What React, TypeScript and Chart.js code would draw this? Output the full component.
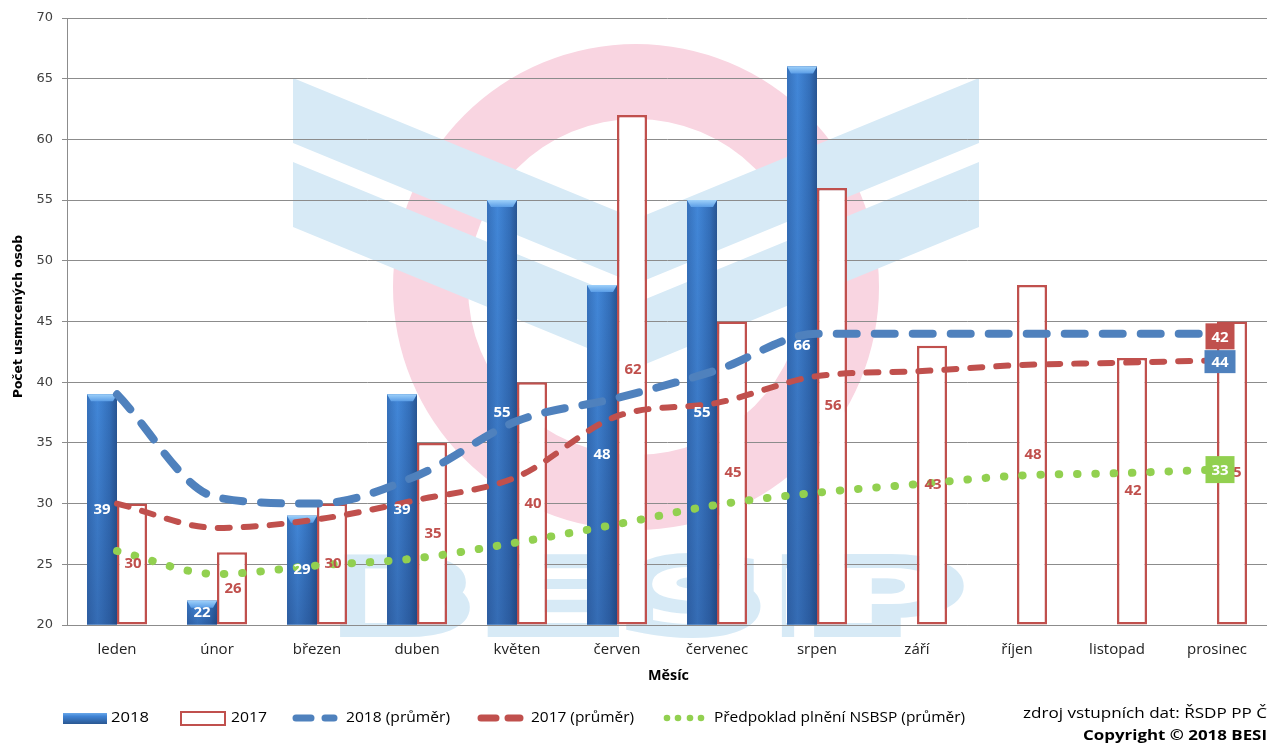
import React, { useEffect, useRef } from 'react';
import { Chart, registerables } from 'chart.js';

Chart.register(...registerables);

// ---- data ----
const months = ['leden', 'únor', 'březen', 'duben', 'květen', 'červen', 'červenec', 'srpen', 'září', 'říjen', 'listopad', 'prosinec'];
const deaths2018: (number | null)[] = [39, 22, 29, 39, 55, 48, 55, 66, null, null, null, null];
const deaths2017 = [30, 26, 30, 35, 40, 62, 45, 56, 43, 48, 42, 45];
const avg2018 = [39, 30.5, 30, 32.3, 36.8, 38.7, 41, 44, 44, 44, 44, 44];
const avg2017 = [30, 28, 28.7, 30.3, 32.2, 37.2, 38.3, 40.5, 40.9, 41.4, 41.6, 41.8];
const nsbspAvg = [26.1, 24.2, 24.9, 25.5, 26.8, 28.3, 29.9, 30.9, 31.6, 32.3, 32.5, 32.8];
const yMin = 20;
const yMax = 70;
const yStep = 5;
const legendLabels = ['2018', '2017', '2018 (průměr)', '2017 (průměr)', 'Předpoklad plnění NSBSP (průměr)'];
const yTitle = 'Počet usmrcených osob';
const xTitle = 'Měsíc';
const sourceText = 'zdroj vstupních dat: ŘSDP PP Č';
const copyrightText = 'Copyright © 2018 BESIP';

const W = 1267;
const H = 744;
const BLUE = '#4f81bd';
const RED = '#c0504d';
const GREEN = '#92d050';
const WM_BLUE = '#d7eaf6';
const WM_PINK = '#f9d5e1';

function fitText(ctx: CanvasRenderingContext2D, text: string, x: number, y: number, width: number, measureText?: string) {
  const m = ctx.measureText(measureText ?? text).width;
  const s = m > 0 ? width / m : 1;
  ctx.save();
  ctx.translate(x, y);
  ctx.scale(s, 1);
  ctx.textAlign = 'left';
  ctx.fillText(text, 0, 0);
  ctx.restore();
}

function drawWatermark(ctx: CanvasRenderingContext2D) {
  ctx.save();
  // pink ring
  ctx.fillStyle = WM_PINK;
  ctx.beginPath();
  ctx.arc(636, 287, 243, 0, Math.PI * 2, false);
  ctx.moveTo(636 + 168, 287);
  ctx.arc(636, 287, 168, 0, Math.PI * 2, true);
  ctx.fill();
  // chevrons
  ctx.fillStyle = WM_BLUE;
  const band = (t: number) => {
    ctx.beginPath();
    ctx.moveTo(293, t);
    ctx.lineTo(636, t + 141);
    ctx.lineTo(979, t);
    ctx.lineTo(979, t + 65);
    ctx.lineTo(636, t + 206);
    ctx.lineTo(293, t + 65);
    ctx.closePath();
    ctx.fill();
  };
  band(78);
  band(162);
  // BESIP letters (outlined)
  const letters: [string, number, number][] = [
    ['B', 339, 468],
    ['E', 488, 616],
    ['S', 628, 758],
    ['I', 770, 806],
    ['P', 815, 955],
  ];
  const lw = 28;
  ctx.font = 'bold 74px "DejaVu Sans"';
  ctx.textBaseline = 'alphabetic';
  ctx.lineJoin = 'miter';
  for (const [ch, l, r] of letters) {
    const m = ctx.measureText(ch).width;
    const target = Math.max(r - l - lw, 8);
    const s = target / m;
    ctx.save();
    ctx.translate((l + r) / 2, 637 - lw / 2);
    ctx.scale(s, 1);
    ctx.lineWidth = lw;
    ctx.strokeStyle = WM_BLUE;
    ctx.textAlign = 'center';
    ctx.strokeText(ch, 0, 0);
    ctx.fillStyle = '#ffffff';
    ctx.fillText(ch, 0, 0);
    ctx.restore();
  }
  ctx.restore();
}

const bgPlugin = {
  id: 'bg',
  beforeDraw(chart: any) {
    const ctx = chart.ctx as CanvasRenderingContext2D;
    ctx.save();
    ctx.fillStyle = '#ffffff';
    ctx.fillRect(0, 0, chart.width, chart.height);
    drawWatermark(ctx);
    ctx.restore();
  },
};

const barStylePlugin = {
  id: 'barStyle',
  afterDatasetDraw(chart: any, args: any) {
    if (args.index !== 0) return;
    const ctx = chart.ctx as CanvasRenderingContext2D;
    const meta = args.meta;
    ctx.save();
    meta.data.forEach((el: any, i: number) => {
      if (deaths2018[i] == null) return;
      const x0 = el.x - el.width / 2;
      const x1 = el.x + el.width / 2;
      const top = el.y;
      const bottom = el.base;
      const hg = ctx.createLinearGradient(x0, 0, x1, 0);
      hg.addColorStop(0, '#3671bb');
      hg.addColorStop(0.35, '#4287d8');
      hg.addColorStop(0.75, '#3470bb');
      hg.addColorStop(1, '#285592');
      ctx.fillStyle = hg;
      ctx.fillRect(x0, top, x1 - x0, bottom - top);
      const vg = ctx.createLinearGradient(0, top, 0, bottom);
      vg.addColorStop(0, 'rgba(20,40,90,0)');
      vg.addColorStop(1, 'rgba(20,40,90,0.28)');
      ctx.fillStyle = vg;
      ctx.fillRect(x0, top, x1 - x0, bottom - top);
      // bevel cap
      const cg = ctx.createLinearGradient(0, top, 0, top + 7);
      cg.addColorStop(0, '#9dd0fa');
      cg.addColorStop(1, '#5a9de6');
      ctx.fillStyle = cg;
      ctx.beginPath();
      ctx.moveTo(x0, top);
      ctx.lineTo(x1, top);
      ctx.lineTo(x1 - 4, top + 7);
      ctx.lineTo(x0 + 4, top + 7);
      ctx.closePath();
      ctx.fill();
    });
    ctx.restore();
  },
};

const labelsPlugin = {
  id: 'labels',
  afterDatasetsDraw(chart: any) {
    const ctx = chart.ctx as CanvasRenderingContext2D;
    const ys = chart.scales.y;
    const xs = chart.scales.x;
    ctx.save();
    ctx.font = 'bold 15px "Open Sans"';
    ctx.textAlign = 'center';
    ctx.textBaseline = 'middle';
    const m0 = chart.getDatasetMeta(0);
    m0.data.forEach((el: any, i: number) => {
      const v = deaths2018[i];
      if (v == null) return;
      ctx.fillStyle = '#ffffff';
      ctx.fillText(String(v), el.x, (el.y + el.base) / 2);
    });
    const m1 = chart.getDatasetMeta(1);
    m1.data.forEach((el: any, i: number) => {
      ctx.fillStyle = RED;
      ctx.fillText(String(deaths2017[i]), el.x + 1, (el.y + el.base) / 2);
    });
    // end-of-line labels
    const last = months.length - 1;
    const cx = xs.getPixelForValue(last) + 3;
    const box = (txt: string, color: string, cy: number, w: number, h: number) => {
      ctx.fillStyle = color;
      ctx.fillRect(cx - w / 2, cy - h / 2, w, h);
      ctx.fillStyle = '#ffffff';
      ctx.fillText(txt, cx, cy + 1);
    };
    box(String(Math.round(avg2017[last])), RED, ys.getPixelForValue(avg2017[last]) - 24, 29, 26);
    box(String(Math.round(avg2018[last])), BLUE, ys.getPixelForValue(avg2018[last]) + 28, 31, 23);
    box(String(Math.round(nsbspAvg[last])), GREEN, ys.getPixelForValue(nsbspAvg[last]), 29, 27);
    ctx.restore();
  },
};

const decorPlugin = {
  id: 'decor',
  afterDraw(chart: any) {
    const ctx = chart.ctx as CanvasRenderingContext2D;
    ctx.save();
    ctx.textBaseline = 'middle';
    ctx.fillStyle = '#000000';
    // y title
    ctx.font = 'bold 13px "DejaVu Sans"';
    ctx.save();
    ctx.translate(19, 398);
    ctx.rotate(-Math.PI / 2);
    fitText(ctx, yTitle, 0, 0, 163);
    ctx.restore();
    // x title
    ctx.font = 'bold 14px "Open Sans"';
    fitText(ctx, xTitle, 648, 676, 41);

    // legend
    const ly = 718;
    const g = ctx.createLinearGradient(0, 713, 0, 724);
    g.addColorStop(0, '#6aa8ea');
    g.addColorStop(0.3, '#3f83d4');
    g.addColorStop(1, '#2a5792');
    ctx.fillStyle = g;
    ctx.fillRect(63, 713, 44, 11);
    ctx.strokeStyle = RED;
    ctx.lineWidth = 2;
    ctx.fillStyle = '#ffffff';
    ctx.fillRect(181, 712, 44, 13);
    ctx.strokeRect(181, 712, 44, 13);
    ctx.lineCap = 'round';
    ctx.lineWidth = 7;
    ctx.strokeStyle = BLUE;
    ctx.beginPath();
    ctx.moveTo(296, ly); ctx.lineTo(311, ly);
    ctx.moveTo(325, ly); ctx.lineTo(334, ly);
    ctx.stroke();
    ctx.strokeStyle = RED;
    ctx.beginPath();
    ctx.moveTo(481, ly); ctx.lineTo(496, ly);
    ctx.moveTo(508, ly); ctx.lineTo(520, ly);
    ctx.stroke();
    ctx.fillStyle = GREEN;
    [667, 678, 690, 701].forEach((x) => {
      ctx.beginPath();
      ctx.arc(x, ly, 3.3, 0, Math.PI * 2);
      ctx.fill();
    });
    ctx.fillStyle = '#000000';
    ctx.font = '15px "Open Sans"';
    const lx: [number, number][] = [[111, 38], [231, 36], [346, 104], [531, 103], [714, 251]];
    legendLabels.forEach((t, i) => fitText(ctx, t, lx[i][0], ly, lx[i][1]));
    fitText(ctx, sourceText, 1023, 714, 244);
    ctx.font = 'bold 15px "Open Sans"';
    fitText(ctx, copyrightText, 1083, 736, 184, copyrightText.slice(0, -1));
    ctx.restore();
  },
};

export default function App() {
  const ref = useRef<HTMLCanvasElement>(null);
  useEffect(() => {
    const canvas = ref.current;
    if (!canvas) return;
    const chart = new Chart(canvas, {
      type: 'bar',
      data: {
        labels: months,
        datasets: [
          {
            type: 'bar',
            label: legendLabels[0],
            data: deaths2018,
            base: yMin,
            backgroundColor: '#3a78c4',
            borderWidth: 0,
            categoryPercentage: 0.6,
            barPercentage: 1,
            order: 4,
          },
          {
            type: 'bar',
            label: legendLabels[1],
            data: deaths2017,
            base: yMin,
            backgroundColor: '#ffffff',
            borderColor: RED,
            borderWidth: 2.5,
            borderSkipped: false,
            categoryPercentage: 0.6,
            barPercentage: 1,
            order: 5,
          },
          {
            type: 'line',
            label: legendLabels[2],
            data: avg2018,
            borderColor: BLUE,
            borderWidth: 8,
            borderDash: [20, 18],
            borderCapStyle: 'round',
            pointRadius: 0,
            cubicInterpolationMode: 'monotone',
            fill: false,
            order: 3,
          },
          {
            type: 'line',
            label: legendLabels[3],
            data: avg2017,
            borderColor: RED,
            borderWidth: 6,
            borderDash: [12, 14],
            borderCapStyle: 'round',
            pointRadius: 0,
            cubicInterpolationMode: 'monotone',
            fill: false,
            order: 2,
          },
          {
            type: 'line',
            label: legendLabels[4],
            data: nsbspAvg,
            borderColor: GREEN,
            borderWidth: 8,
            borderDash: [0.5, 17.8],
            borderCapStyle: 'round',
            pointRadius: 0,
            cubicInterpolationMode: 'monotone',
            fill: false,
            order: 1,
          },
        ] as any,
      },
      options: {
        responsive: false,
        animation: false,
        layout: { padding: { top: 18, right: 0, bottom: 0, left: 0 } },
        plugins: {
          legend: { display: false },
          tooltip: { enabled: false },
        },
        scales: {
          x: {
            grid: { display: false },
            border: { display: true, color: '#8c8c8c', width: 1 },
            ticks: {
              color: '#222222',
              font: { family: '"Open Sans"', size: 15 },
              padding: 8,
              maxRotation: 0,
              autoSkip: false,
            },
            afterFit(scale: any) {
              scale.height = 119;
            },
          },
          y: {
            min: yMin,
            max: yMax,
            ticks: {
              stepSize: yStep,
              color: '#404040',
              font: { family: '"DejaVu Sans"', size: 13 },
              padding: 9,
            },
            grid: { color: '#8c8c8c', lineWidth: 1, tickLength: 5 },
            border: { display: true, color: '#8c8c8c', width: 1 },
            afterFit(scale: any) {
              scale.width = 67;
            },
          },
        },
      } as any,
      plugins: [bgPlugin, barStylePlugin, labelsPlugin, decorPlugin],
    });
    return () => chart.destroy();
  }, []);
  return (
    <div style={{ position: 'fixed', left: 0, top: 0, width: W, height: H, background: '#ffffff', overflow: 'hidden' }}>
      <canvas ref={ref} width={W} height={H} style={{ display: 'block', width: W, height: H }} />
    </div>
  );
}
